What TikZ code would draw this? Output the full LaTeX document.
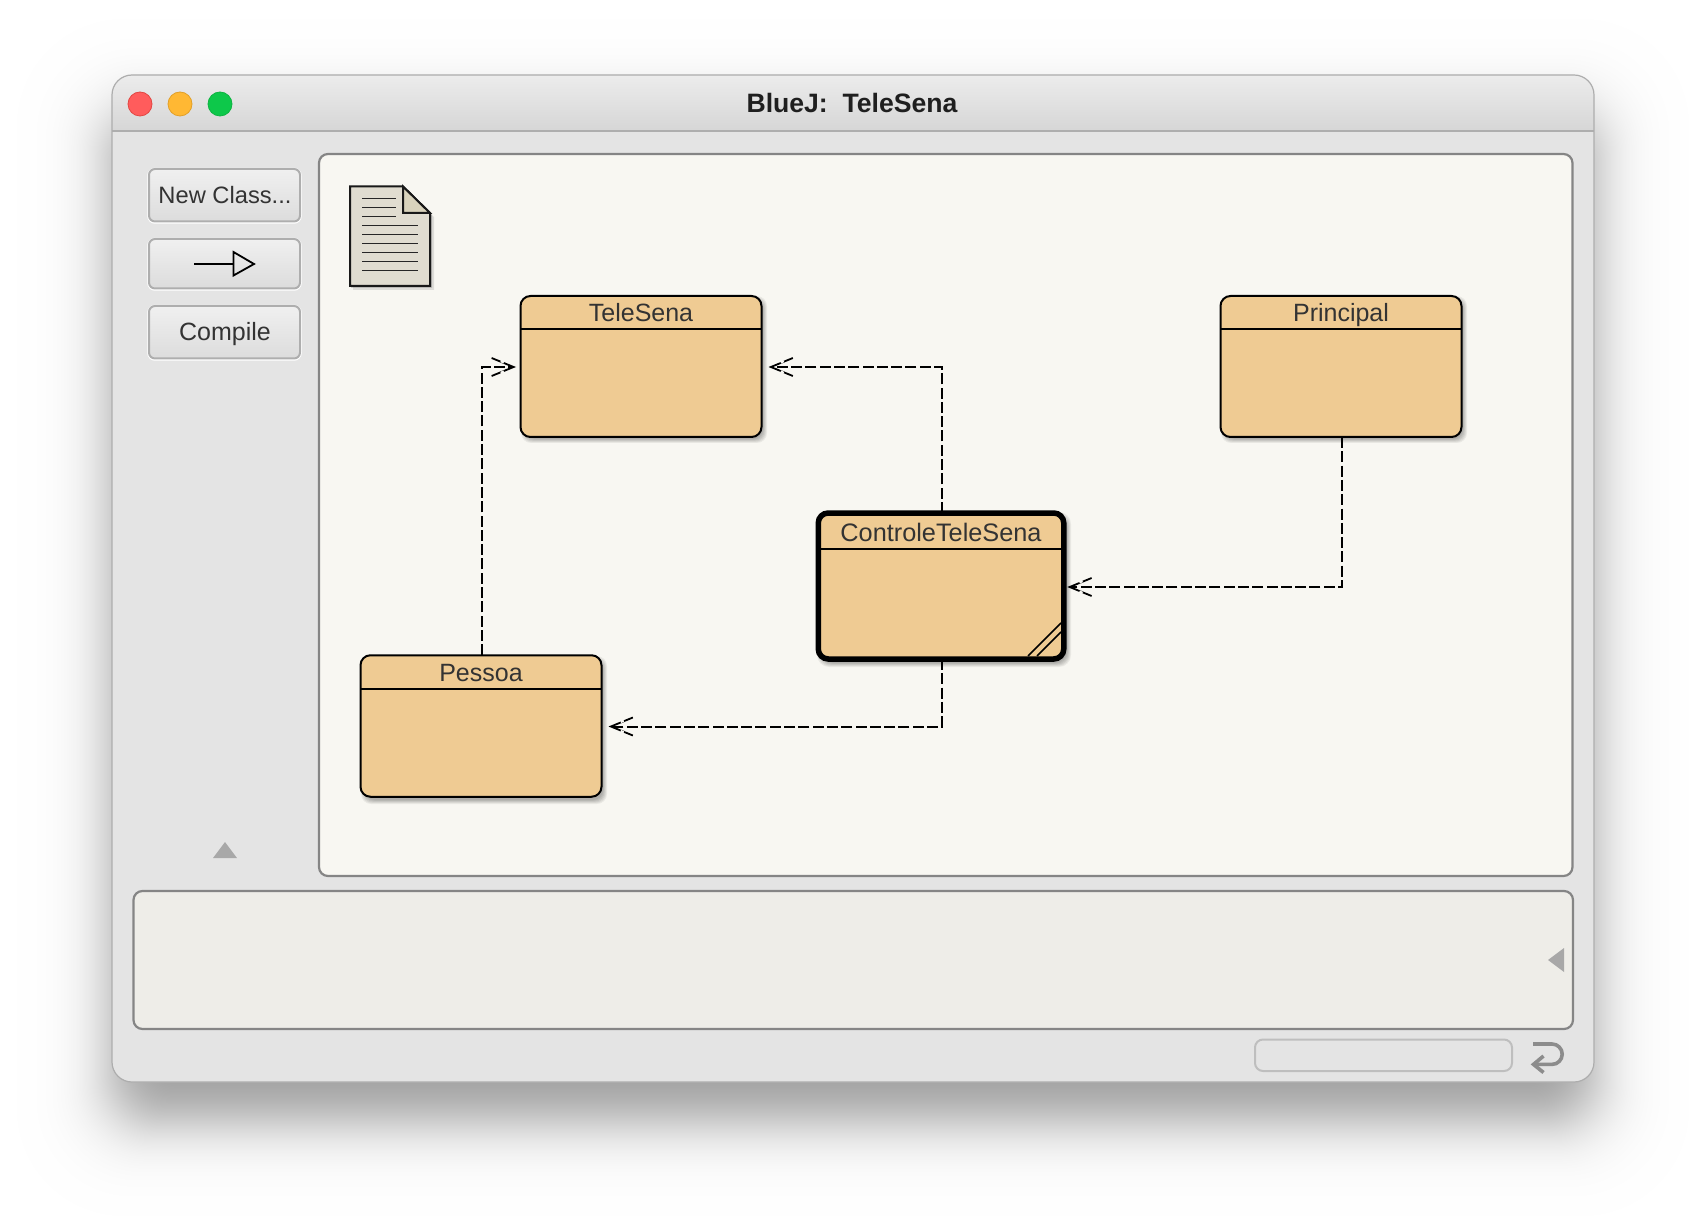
\documentclass[tikz,border=0pt]{standalone}
\usepackage{fontspec}
\setmainfont{Liberation Sans}
\usetikzlibrary{arrows.meta}
\definecolor{classfill}{HTML}{EFCB93}
\definecolor{canvasbg}{HTML}{F8F7F2}
\definecolor{panelbg}{HTML}{EEEDE8}
\definecolor{windowbg}{HTML}{E4E4E4}
\definecolor{framegray}{HTML}{858585}
\definecolor{btnborder}{HTML}{AEAEAE}
\definecolor{labelgray}{HTML}{333333}
\definecolor{docfill}{HTML}{E0DCD0}
\definecolor{foldfill}{HTML}{D9D3BC}
\definecolor{trigray}{HTML}{A8A8A8}
\definecolor{F0}{HTML}{F0F0F0}
\definecolor{DC}{HTML}{DCDCDC}
\definecolor{T1}{HTML}{ECECEC}
\definecolor{T2}{HTML}{D6D6D6}
\newcommand{\softshade}[5]{%
  \foreach \k in {0,...,5}{
    \fill[black,opacity=0.055,rounded corners=#5]
      ({#1+2-\k*0.8+3},{#2+3-\k*0.8+2}) rectangle ({#3+\k*0.8-1+2},{#4+\k*0.8+2});
  }}
% a short gap in a barb: tip at #1, direction of the barb given by #2 (dx,dy per unit)
\newcommand{\barbgap}[3]{%
  \draw[canvasbg,line width=3.4pt] ([xshift=#2*11pt,yshift=#3*5pt]#1) -- ([xshift=#2*14pt,yshift=#3*6.4pt]#1);}
\tikzset{
  classbox/.style={draw=black,line width=2pt,fill=classfill,rounded corners=10pt,
    minimum width=241pt,minimum height=141pt,inner sep=0pt,outer sep=0pt},
  selbox/.style={classbox,line width=5.5pt,minimum width=245.5pt,minimum height=146pt},
  classname/.style={font=\fontsize{25}{25}\selectfont,text=labelgray,inner sep=0pt,anchor=base},
  divider/.style={draw=black,line width=2pt},
  btnbox/.style={draw=btnborder,line width=2pt,rounded corners=6pt,top color=F0,bottom color=DC},
  btntext/.style={font=\fontsize{25}{25}\selectfont,text=labelgray,inner sep=0pt,anchor=base},
  frame/.style={draw=framegray,line width=2.2pt,rounded corners=9pt},
  tri/.style={fill=trigray,draw=none},
  dep/.style={draw=black,line width=2pt,dash pattern=on 11pt off 3.3pt,
     -{Straight Barb[length=22pt,width=18pt,line width=1.8pt]},shorten >=7pt},
  docline/.style={draw=black!85,line width=0.9pt},
}
\begin{document}
\begin{tikzpicture}[x=1pt,y=-1pt]
\useasboundingbox (0,0) rectangle (1706,1230);
\fill[white] (0,0) rectangle (1706,1230);
% window shadow: soft layers spaced as a logistic profile
\foreach \k in {0,...,99}{
  \pgfmathsetmacro{\dd}{-18*ln((\k+0.5)/(100-\k-0.5))}
  \pgfmathsetmacro{\rr}{max(4,50+0.6*\dd)}
  \fill[black,opacity=0.004,rounded corners=\rr pt]
    ({112-\dd},{75+39-\dd}) rectangle ({1594+\dd},{1082+39+\dd});
}
% window
\fill[windowbg,rounded corners=20pt] (112,75) rectangle (1594,1082);
\begin{scope}
  \clip[rounded corners=20pt] (112,75) rectangle (1594,1082);
  \shade[top color=T1,bottom color=T2] (112,75) rectangle (1594,131);
  \draw[btnborder,line width=2pt] (112,131) -- (1594,131);
\end{scope}
\draw[black!32,line width=1.2pt,rounded corners=20pt] (112,75) rectangle (1594,1082);
% traffic lights
\node[circle,minimum size=24pt,inner sep=0pt,fill={rgb,255:red,255;green,92;blue,92},draw={rgb,255:red,226;green,70;blue,66},line width=0.8pt] (closebtn) at (140,104) {};
\node[circle,minimum size=24pt,inner sep=0pt,fill={rgb,255:red,255;green,184;blue,51},draw={rgb,255:red,226;green,160;blue,40},line width=0.8pt] (minbtn) at (180,104) {};
\node[circle,minimum size=24pt,inner sep=0pt,fill={rgb,255:red,13;green,200;blue,74},draw={rgb,255:red,14;green,180;blue,66},line width=0.8pt] (maxbtn) at (220,104) {};
\node[font=\bfseries\fontsize{26.6}{26.6}\selectfont,text=black!88,inner sep=0pt,anchor=base] (title) at (852,112.5) {BlueJ:\ \ TeleSena};
% buttons
\draw[white,line width=1.5pt,rounded corners=7pt] (148,168.5) rectangle (301,223);
\draw[white,line width=1.5pt,rounded corners=7pt] (148,238.5) rectangle (301,290);
\draw[white,line width=1.5pt,rounded corners=7pt] (148,305.5) rectangle (301,360);
\path[btnbox] (149,169) rectangle (300,221.5);
\path[btnbox] (149,239) rectangle (300,288.5);
\path[btnbox] (149,306) rectangle (300,358.5);
\node[btntext,font=\fontsize{23.7}{23.7}\selectfont] (newclass) at (225,204) {New Class...};
\node[btntext] (compile) at (225,341) {Compile};
\draw[black,line width=1.6pt] (194,264) -- (233.5,264);
\draw[black,line width=1.8pt] (233.5,252) -- (254,264) -- (233.5,275.5) -- cycle;
% panels
\path[frame,fill=canvasbg] (319,154) rectangle (1572.5,876);
\path[frame,fill=panelbg] (133.5,891) rectangle (1573,1029);
\draw[btnborder!80,line width=2pt,rounded corners=8pt,fill=windowbg] (1255,1039.5) rectangle (1512,1071);
\fill[tri] (213,858) -- (225,842) -- (237,858) -- cycle;
\fill[tri] (1564,948) -- (1548,960) -- (1564,972) -- cycle;
% return glyph
\draw[black!45,line width=3.6pt] (1533,1044) -- (1552,1044) arc[start angle=-90,end angle=90,radius=10.2] -- (1536,1064.4);
\draw[black!45,line width=3.6pt] (1543.5,1056) -- (1533.5,1064.4) -- (1543.5,1072.5);
% document icon
\fill[black,opacity=0.10] (353,192) -- (405,192) -- (434,217) -- (434,290) -- (353,290) -- cycle;
\fill[black,opacity=0.16] (351,190) -- (404,190) -- (432,215) -- (432,288) -- (351,288) -- cycle;
\draw[black!90,line width=2pt,fill=docfill] (350,186.5) -- (403,186.5) -- (430,213) -- (430,286) -- (350,286) -- cycle;
\draw[black!90,line width=2pt,fill=foldfill] (403,186.5) -- (403,213) -- (430,213) -- cycle;
\foreach \y in {198,207,216}{ \draw[docline] (362,\y) -- (396,\y); }
\foreach \y in {225,234,243,252,261,270}{ \draw[docline] (362,\y) -- (418,\y); }
% class shadows
\softshade{520}{295}{762}{437}{10pt}
\softshade{1220}{295}{1462}{437}{10pt}
\softshade{360}{655}{602}{798}{10pt}
\softshade{816}{511}{1066}{661}{12pt}
% classes
\node[classbox] (tele) at (641,366.5) {};
\node[classbox] (princ) at (1341,366.5) {};
\node[classbox,minimum height=141.5pt] (pess) at (481,726) {};
\node[selbox] (ctrl) at (941,586) {};
\draw[divider] ([yshift=-33pt]tele.north west) -- ([yshift=-33pt]tele.north east);
\draw[divider] ([yshift=-33pt]princ.north west) -- ([yshift=-33pt]princ.north east);
\draw[divider] ([yshift=-33.5pt]pess.north west) -- ([yshift=-33.5pt]pess.north east);
\draw[divider] ([yshift=-36pt,xshift=2pt]ctrl.north west) -- ([yshift=-36pt,xshift=-2pt]ctrl.north east);
\node[classname] (telet) at (641,322) {TeleSena};
\node[classname] (princt) at (1341,322) {Principal};
\node[classname] (pesst) at (481,681) {Pessoa};
\node[classname,font=\fontsize{25.3}{25.3}\selectfont] (ctrlt) at (941,541.5) {ControleTeleSena};
\draw[black,line width=1.5pt] (1028,656) -- (1061,623);
\draw[black,line width=1.5pt] (1037,656) -- (1061,632);
% dependencies
\draw[dep] ([xshift=1pt]ctrl.north) |- ([yshift=-0.5pt]tele.east);
\draw[dep,shorten >=4.5pt] ([xshift=1pt]pess.north) |- ([yshift=-0.5pt]tele.west);
\draw[dep,shorten >=3.5pt] ([xshift=1pt]princ.south) |- ([yshift=-1pt]ctrl.east);
\draw[dep] ([xshift=1pt]ctrl.south) |- ([yshift=-0.5pt]pess.east);
% breaks in the barbs of the arrowheads
\coordinate (tipa) at ([xshift=8pt,yshift=-0.5pt]tele.east);
\coordinate (tipb) at ([xshift=-5.5pt,yshift=-0.5pt]tele.west);
\coordinate (tipc) at ([xshift=4.5pt,yshift=-1pt]ctrl.east);
\coordinate (tipd) at ([xshift=8pt,yshift=-0.5pt]pess.east);
\foreach \t/\s in {tipa/1,tipc/1,tipd/1,tipb/-1}{
  \barbgap{\t}{\s}{1}
  \barbgap{\t}{\s}{-1}
}
\end{tikzpicture}
\end{document}
